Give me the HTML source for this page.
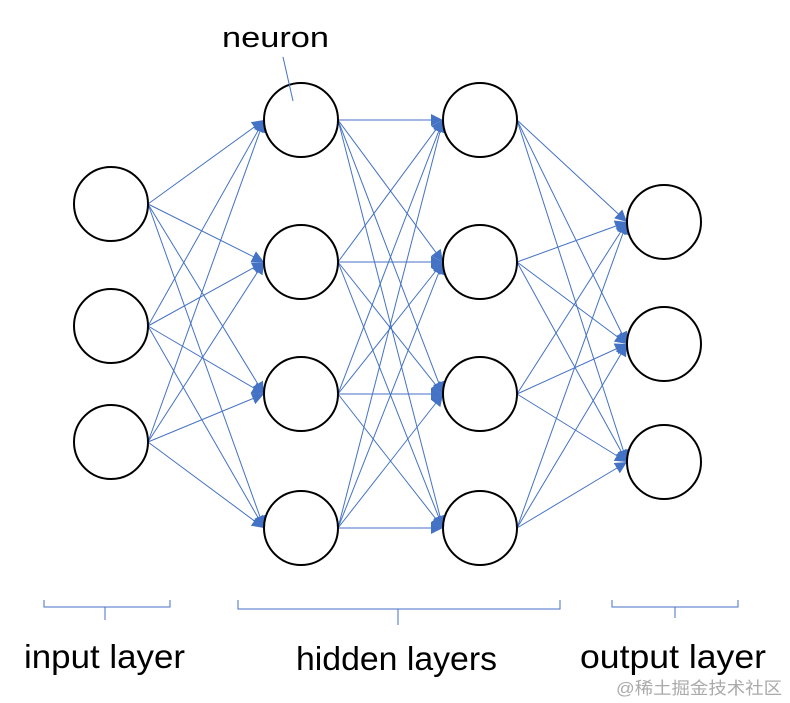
<!DOCTYPE html>
<html><head><meta charset="utf-8"><style>body{margin:0;background:#fff}svg{display:block}</style></head><body>
<svg width="790" height="703" viewBox="0 0 790 703" xmlns="http://www.w3.org/2000/svg">
<defs><marker id="a" viewBox="0 0 10 10" refX="10" refY="5" markerWidth="12" markerHeight="12" markerUnits="userSpaceOnUse" orient="auto"><path d="M0,0L10,5L0,10z" fill="#4472c4"/></marker></defs>
<g stroke="#4472c4" stroke-width="1" marker-end="url(#a)">
<line x1="148" y1="204" x2="264" y2="120"/><line x1="148" y1="204" x2="264" y2="262"/><line x1="148" y1="204" x2="264" y2="394"/><line x1="148" y1="204" x2="264" y2="528"/>
<line x1="148" y1="326" x2="264" y2="120"/><line x1="148" y1="326" x2="264" y2="262"/><line x1="148" y1="326" x2="264" y2="394"/><line x1="148" y1="326" x2="264" y2="528"/>
<line x1="148" y1="442" x2="264" y2="120"/><line x1="148" y1="442" x2="264" y2="262"/><line x1="148" y1="442" x2="264" y2="394"/><line x1="148" y1="442" x2="264" y2="528"/>
<line x1="338" y1="120" x2="443" y2="120"/><line x1="338" y1="120" x2="443" y2="262"/><line x1="338" y1="120" x2="443" y2="394"/><line x1="338" y1="120" x2="443" y2="528"/>
<line x1="338" y1="262" x2="443" y2="120"/><line x1="338" y1="262" x2="443" y2="262"/><line x1="338" y1="262" x2="443" y2="394"/><line x1="338" y1="262" x2="443" y2="528"/>
<line x1="338" y1="394" x2="443" y2="120"/><line x1="338" y1="394" x2="443" y2="262"/><line x1="338" y1="394" x2="443" y2="394"/><line x1="338" y1="394" x2="443" y2="528"/>
<line x1="338" y1="528" x2="443" y2="120"/><line x1="338" y1="528" x2="443" y2="262"/><line x1="338" y1="528" x2="443" y2="394"/><line x1="338" y1="528" x2="443" y2="528"/>
<line x1="517" y1="120" x2="627" y2="222"/><line x1="517" y1="120" x2="627" y2="344"/><line x1="517" y1="120" x2="627" y2="462"/>
<line x1="517" y1="262" x2="627" y2="222"/><line x1="517" y1="262" x2="627" y2="344"/><line x1="517" y1="262" x2="627" y2="462"/>
<line x1="517" y1="394" x2="627" y2="222"/><line x1="517" y1="394" x2="627" y2="344"/><line x1="517" y1="394" x2="627" y2="462"/>
<line x1="517" y1="528" x2="627" y2="222"/><line x1="517" y1="528" x2="627" y2="344"/><line x1="517" y1="528" x2="627" y2="462"/>
</g>
<g fill="#fff" stroke="#000" stroke-width="2">
<circle cx="111" cy="204" r="37"/><circle cx="111" cy="326" r="37"/><circle cx="111" cy="442" r="37"/>
<circle cx="301" cy="120" r="37"/><circle cx="301" cy="262" r="37"/><circle cx="301" cy="394" r="37"/><circle cx="301" cy="528" r="37"/>
<circle cx="480" cy="120" r="37"/><circle cx="480" cy="262" r="37"/><circle cx="480" cy="394" r="37"/><circle cx="480" cy="528" r="37"/>
<circle cx="664" cy="222" r="37"/><circle cx="664" cy="344" r="37"/><circle cx="664" cy="462" r="37"/>
</g>
<line x1="283" y1="57" x2="293" y2="101" stroke="#4472c4" stroke-width="1"/>
<g fill="none" stroke="#4472c4" stroke-width="1">
<path d="M44,600V607H170V600M105,607V620"/>
<path d="M238,600V609H560V600M398,609V625"/>
<path d="M612,600V607H738V600M675,607V618"/>
</g>
<g font-family="Liberation Sans, sans-serif" fill="#000">
<text x="222" y="47" font-size="29" textLength="107" lengthAdjust="spacingAndGlyphs">neuron</text>
<text x="24" y="668" font-size="33" textLength="161" lengthAdjust="spacingAndGlyphs">input layer</text>
<text x="296" y="670" font-size="33" textLength="201" lengthAdjust="spacingAndGlyphs">hidden layers</text>
<text x="580" y="668" font-size="33" textLength="186" lengthAdjust="spacingAndGlyphs">output layer</text>
</g>
<text x="616" y="694" font-size="17" fill="#aaa" textLength="166" lengthAdjust="spacingAndGlyphs" font-family="Liberation Sans, Noto Sans CJK SC, sans-serif">@稀土掘金技术社区</text>
</svg>
</body></html>
